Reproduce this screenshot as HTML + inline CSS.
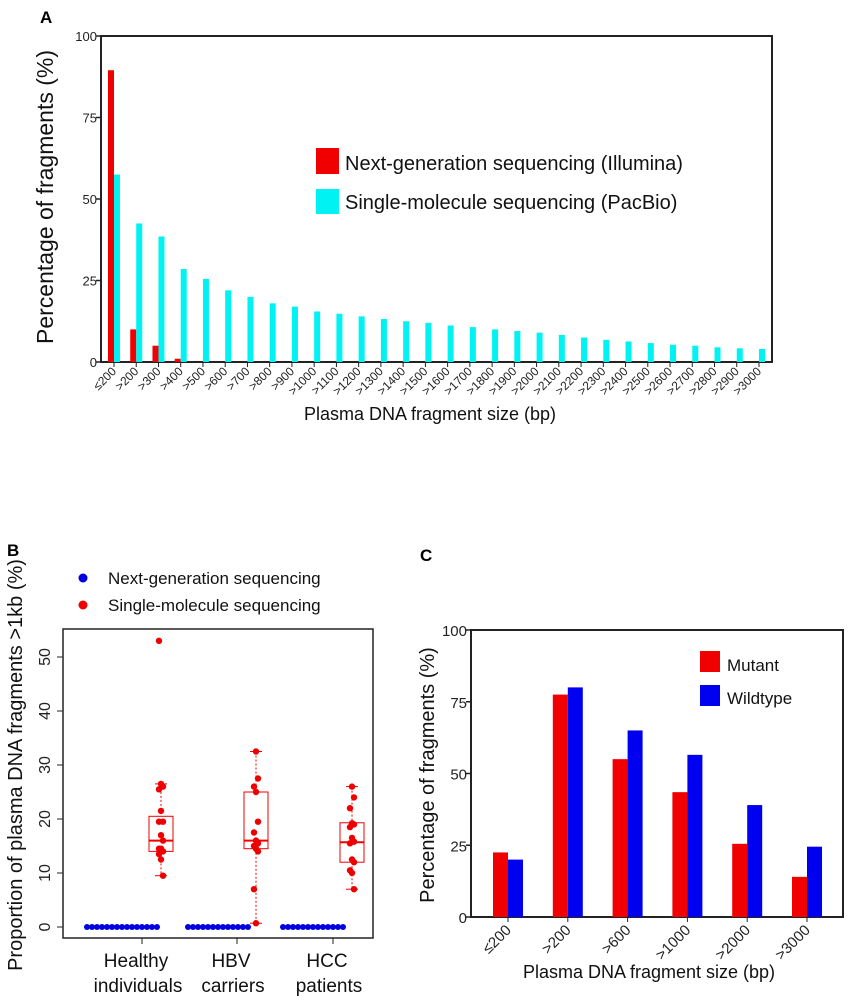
<!DOCTYPE html>
<html><head><meta charset="utf-8">
<style>
html,body{margin:0;padding:0;background:#fff;width:850px;height:1008px;overflow:hidden}
svg{display:block;font-family:"Liberation Sans",Arial,sans-serif}
</style></head>
<body>
<svg id="fig" width="850" height="1008" viewBox="0 0 850 1008" xmlns="http://www.w3.org/2000/svg">
<text x="40" y="23" font-size="17" font-weight="bold">A</text>
<text x="7" y="556" font-size="17" font-weight="bold">B</text>
<text x="420" y="561" font-size="17" font-weight="bold">C</text>
<g id="pa"></g>
<g id="pb"></g>
<g id="pc"></g>
</svg>
<script>
// ---- Panel A data ----
const aCategories = ["≤200",">200",">300",">400",">500",">600",">700",">800",">900",">1000",">1100",">1200",">1300",">1400",">1500",">1600",">1700",">1800",">1900",">2000",">2100",">2200",">2300",">2400",">2500",">2600",">2700",">2800",">2900",">3000"];
const aIllumina = [89.5,10,5,1,0,0,0,0,0,0,0,0,0,0,0,0,0,0,0,0,0,0,0,0,0,0,0,0,0,0];
const aPacBio = [57.5,42.5,38.5,28.5,25.5,22,20,18,17,15.5,14.8,14,13.2,12.5,12,11.2,10.7,10,9.5,9,8.3,7.5,6.8,6.3,5.8,5.3,5,4.5,4.2,4];
const aTicks = [0,25,50,75,100];
// ---- Panel B data ----
const bGroups = ["Healthy|individuals","HBV|carriers","HCC|patients"];
const bNgsCounts = [15,13,13];
const bNgsValue = [0,0,0];
const bSmsHealthy = [26.5,26,25.5,21.5,19.5,19.5,17,16,14.5,14.5,14,13.5,12.5,9.5,53];
const bSmsHBV = [32.5,27.5,26,25,19.5,17.5,16,15.5,15,14.5,14,7,0.7];
const bSmsHCC = [26,24,22,19.2,19,18.5,16.5,15.8,15.5,12.5,12,10.5,10,7];
const bBoxLow = [14,14.5,12];
const bBoxMed = [16,16,15.7];
const bBoxHigh = [20.5,25,19.3];
const bWhiskLow = [9.5,0.7,7];
const bWhiskHigh = [26.5,32.5,26];
const bTicks = [0,10,20,30,40,50];
// ---- Panel C data ----
const cCategories = ["≤200",">200",">600",">1000",">2000",">3000"];
const cMutant = [22.5,77.5,55,43.5,25.5,14];
const cWildtype = [20,80,65,56.5,39,24.5];
const cTicks = [0,25,50,75,100];

const NS="http://www.w3.org/2000/svg";
function mk(parent,tag,attrs,text){const e=document.createElementNS(NS,tag);for(const k in attrs)e.setAttribute(k,attrs[k]);if(text!==undefined)e.textContent=text;parent.appendChild(e);return e;}

// ===== Panel A =====
(function(){
const g=document.getElementById('pa');
const L=101,R=772,T=36,B=362;
const y=v=>B-(v/100)*(B-T);
const x=i=>114+i*((759-114)/29);
mk(g,'rect',{x:L,y:T,width:R-L,height:B-T,fill:'none',stroke:'#222','stroke-width':2});
aTicks.forEach(t=>{
 let e=mk(g,'line',{x1:L-5,x2:L,y1:y(t),y2:y(t),stroke:'#222','stroke-width':1.5});
 
 let s=mk(g,'text',{x:L-4,y:y(t)+5,'font-size':13,'text-anchor':'end',fill:'#222'},String(t));
 
});
aCategories.forEach((c,i)=>{
 let r=mk(g,'rect',{x:x(i)-6,y:y(aIllumina[i]),width:6,height:B-y(aIllumina[i]),fill:'#f00000'});
 
 let q=mk(g,'rect',{x:x(i),y:y(aPacBio[i]),width:6,height:B-y(aPacBio[i]),fill:'#00f2f2'});
 
 let tk=mk(g,'line',{x1:x(i),x2:x(i),y1:B,y2:B+5,stroke:'#222','stroke-width':1});
 
 let t=mk(g,'text',{x:x(i)+3,y:B+10,'font-size':12,'text-anchor':'end',fill:'#222',transform:`rotate(-45 ${x(i)+3} ${B+10})`},c);
 
});
let e;
e=mk(g,'text',{x:430,y:420,'font-size':18,'text-anchor':'middle',fill:'#111'},'Plasma DNA fragment size (bp)');
e=mk(g,'text',{x:0,y:0,'font-size':23,'text-anchor':'middle',fill:'#111',transform:'translate(53,197) rotate(-90)'},'Percentage of fragments (%)');
e=mk(g,'rect',{x:316,y:148,width:23,height:26,fill:'#f00000'});
e=mk(g,'text',{x:345,y:170,'font-size':20,fill:'#111'},'Next-generation sequencing (Illumina)');
e=mk(g,'rect',{x:316,y:189,width:23,height:25,fill:'#00f2f2'});
e=mk(g,'text',{x:345,y:209,'font-size':20,fill:'#111'},'Single-molecule sequencing (PacBio)');
})();

// ===== Panel B =====
(function(){
const g=document.getElementById('pb');
const L=63,R=373,T=629,B=938;
const y=v=>927-v*5.4;
const gx=[142,237,333];
const ngsStart=[87,188,283];
const boxX=[161,256,352];
const sms=[bSmsHealthy,bSmsHBV,bSmsHCC];
mk(g,'rect',{x:L,y:T,width:R-L,height:B-T,fill:'none',stroke:'#222','stroke-width':1.5});
bTicks.forEach(t=>{
 let e=mk(g,'line',{x1:L-6,x2:L,y1:y(t),y2:y(t),stroke:'#222'});
 e=mk(g,'text',{x:0,y:0,'font-size':16,'text-anchor':'middle',fill:'#222',transform:`translate(50,${y(t)}) rotate(-90)`},String(t));
});
bGroups.forEach((lab,i)=>{
 let e=mk(g,'line',{x1:gx[i],x2:gx[i],y1:B,y2:B+6,stroke:'#222'});
 const parts=lab.split('|');
 e=mk(g,'text',{x:gx[i]-6,y:967,'font-size':19,'text-anchor':'middle',fill:'#111'},parts[0]);
 e=mk(g,'text',{x:gx[i]-4,y:992,'font-size':19,'text-anchor':'middle',fill:'#111'},parts[1]);
 for(let k=0;k<bNgsCounts[i];k++){
  e=mk(g,'circle',{cx:ngsStart[i]+k*5,cy:y(bNgsValue[i]),r:3,fill:'#0000e0'});
 }
 const bx=boxX[i];
 e=mk(g,'line',{x1:bx,x2:bx,y1:y(bWhiskHigh[i]),y2:y(bBoxHigh[i]),stroke:'#e00','stroke-dasharray':'2,2'});
 e=mk(g,'line',{x1:bx,x2:bx,y1:y(bBoxLow[i]),y2:y(bWhiskLow[i]),stroke:'#e00','stroke-dasharray':'2,2'});
 e=mk(g,'line',{x1:bx-6,x2:bx+6,y1:y(bWhiskHigh[i]),y2:y(bWhiskHigh[i]),stroke:'#e00'});
 e=mk(g,'line',{x1:bx-6,x2:bx+6,y1:y(bWhiskLow[i]),y2:y(bWhiskLow[i]),stroke:'#e00'});
 e=mk(g,'rect',{x:bx-12,y:y(bBoxHigh[i]),width:24,height:y(bBoxLow[i])-y(bBoxHigh[i]),fill:'none',stroke:'#e00','stroke-width':1});
 e=mk(g,'line',{x1:bx-12,x2:bx+12,y1:y(bBoxMed[i]),y2:y(bBoxMed[i]),stroke:'#e00','stroke-width':2});
 sms[i].forEach((v,k)=>{
  const jit=(k%3===0)?0:((k%3===1)?2:-2);
  e=mk(g,'circle',{cx:bx+jit,cy:y(v),r:3.2,fill:'#e00'});
 });
});
let e;
e=mk(g,'circle',{cx:83,cy:578,r:4.5,fill:'#0000e0'});
e=mk(g,'text',{x:108,y:584,'font-size':17,fill:'#111'},'Next-generation sequencing');
e=mk(g,'circle',{cx:83,cy:605,r:4.5,fill:'#e00'});
e=mk(g,'text',{x:108,y:611,'font-size':17,fill:'#111'},'Single-molecule sequencing');
e=mk(g,'text',{x:0,y:0,'font-size':20,'text-anchor':'middle',fill:'#111',transform:'translate(22,765) rotate(-90)'},'Proportion of plasma DNA fragments >1kb (%)');
})();

// ===== Panel C =====
(function(){
const g=document.getElementById('pc');
const L=471,R=843,T=630,B=917;
const y=v=>B-(v/100)*(B-T);
const x=i=>508+i*59.8;
mk(g,'rect',{x:L,y:T,width:R-L,height:B-T,fill:'none',stroke:'#222','stroke-width':2});
cTicks.forEach(t=>{
 let e=mk(g,'line',{x1:L-5,x2:L,y1:y(t),y2:y(t),stroke:'#222','stroke-width':1.5});
 e=mk(g,'text',{x:L-4,y:y(t)+6,'font-size':15,'text-anchor':'end',fill:'#222'},String(t));
});
cCategories.forEach((c,i)=>{
 let e=mk(g,'rect',{x:x(i)-15,y:y(cMutant[i]),width:15,height:B-y(cMutant[i]),fill:'#f00000'});
 e=mk(g,'rect',{x:x(i),y:y(cWildtype[i]),width:15,height:B-y(cWildtype[i]),fill:'#0000f0'});
 e=mk(g,'line',{x1:x(i),x2:x(i),y1:B,y2:B+5,stroke:'#222'});
 e=mk(g,'text',{x:x(i)+4,y:B+14,'font-size':15,'text-anchor':'end',fill:'#222',transform:`rotate(-45 ${x(i)+4} ${B+14})`},c);
});
let e;
e=mk(g,'rect',{x:700,y:651,width:20,height:21,fill:'#f00000'});
e=mk(g,'text',{x:727,y:671,'font-size':17,fill:'#111'},'Mutant');
e=mk(g,'rect',{x:700,y:685,width:20,height:21,fill:'#0000f0'});
e=mk(g,'text',{x:727,y:704,'font-size':17,fill:'#111'},'Wildtype');
e=mk(g,'text',{x:649,y:978,'font-size':18,'text-anchor':'middle',fill:'#111'},'Plasma DNA fragment size (bp)');
e=mk(g,'text',{x:0,y:0,'font-size':20,'text-anchor':'middle',fill:'#111',transform:'translate(434,775) rotate(-90)'},'Percentage of fragments (%)');
})();
</script>
</body></html>
